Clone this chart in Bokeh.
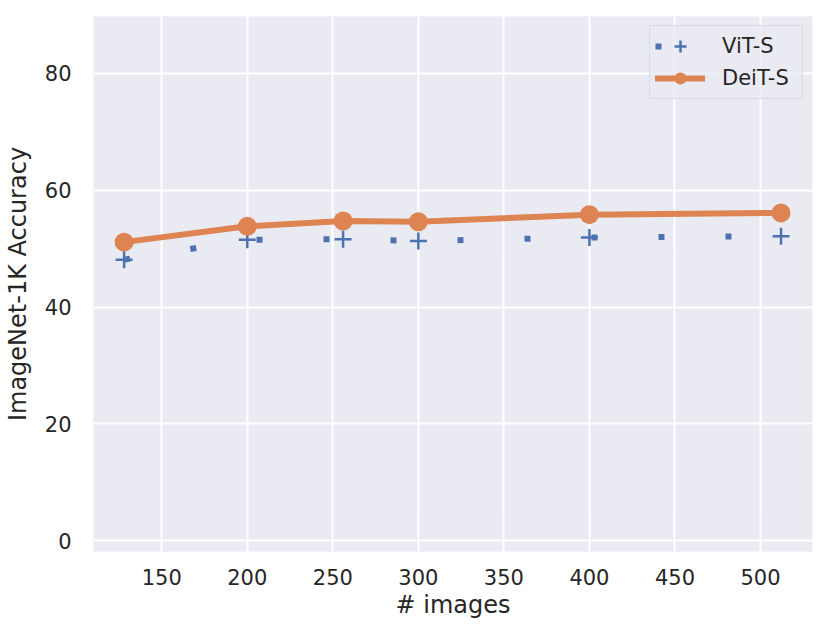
from bokeh.plotting import figure
from bokeh.models import FixedTicker, Range1d, Legend, LegendItem
from bokeh.embed import file_html
from bokeh.resources import INLINE

# data
num_images = [128, 200, 256, 300, 400, 512]
vit_s = [48.1, 51.5, 51.6, 51.3, 51.9, 52.1]
deit_s = [51.1, 53.8, 54.7, 54.6, 55.8, 56.1]
x_ticks = [150, 200, 250, 300, 350, 400, 450, 500]
y_ticks = [0, 20, 40, 60, 80]

BLUE = "#4C72B0"
ORANGE = "#DD8452"
TXT = "#262626"
FONT = "DejaVu Sans"

p = figure(
    frame_width=719, frame_height=535,
    min_border_left=87, min_border_top=16, min_border_right=8, min_border_bottom=72,
    x_range=Range1d(110.1, 530.4), y_range=Range1d(-1.83, 89.7),
    output_backend="svg", toolbar_location=None,
    background_fill_color="#EAEAF2", border_fill_color="white",
)
p.outline_line_color = None

for ax in (p.xaxis, p.yaxis):
    ax.axis_line_color = None
    ax.major_tick_line_color = None
    ax.minor_tick_line_color = None
    ax.major_tick_out = 0
    ax.minor_tick_out = 0
    ax.major_label_text_font = FONT
    ax.major_label_text_font_size = "21px"
    ax.major_label_text_color = TXT
    ax.axis_label_text_font = FONT
    ax.axis_label_text_font_size = "24px"
    ax.axis_label_text_font_style = "normal"
    ax.axis_label_text_color = TXT

p.xaxis.ticker = FixedTicker(ticks=x_ticks)
p.yaxis.ticker = FixedTicker(ticks=y_ticks)
p.xaxis.axis_label = "# images"
p.yaxis.axis_label = "ImageNet-1K Accuracy"
p.xaxis.major_label_standoff = 17
p.yaxis.major_label_standoff = 22
p.xaxis.axis_label_standoff = 3
p.yaxis.axis_label_standoff = 10

p.grid.grid_line_color = "white"
p.grid.grid_line_width = 2
p.xgrid.ticker = FixedTicker(ticks=x_ticks)
p.ygrid.ticker = FixedTicker(ticks=y_ticks)

vit_line = p.line(num_images, vit_s, line_color=BLUE, line_width=6,
                  line_dash="6 61", line_cap="butt", line_join="round")
vit_mark = p.scatter(num_images, vit_s, marker="cross", size=17,
                     line_color=BLUE, line_width=2.5)
deit_line = p.line(num_images, deit_s, line_color=ORANGE, line_width=6,
                   line_cap="round", line_join="round")
deit_mark = p.scatter(num_images, deit_s, marker="circle", size=19,
                      fill_color=ORANGE, line_color=None)

legend = Legend(items=[
    LegendItem(label="ViT-S", renderers=[vit_line, vit_mark]),
    LegendItem(label="DeiT-S", renderers=[deit_line, deit_mark]),
])
legend.location = "top_right"
legend.margin = 9
legend.padding = 5
legend.spacing = 2
legend.glyph_width = 50
legend.glyph_height = 30
legend.label_height = 30
legend.label_width = 75
legend.label_standoff = 17
legend.label_text_font = FONT
legend.label_text_font_size = "21px"
legend.label_text_color = TXT
legend.background_fill_color = "#EAEAF2"
legend.background_fill_alpha = 0.8
legend.border_line_color = "#CCCCCC"
legend.border_line_width = 1.5
p.add_layout(legend)

open("out.html", "w").write(file_html(p, INLINE))
